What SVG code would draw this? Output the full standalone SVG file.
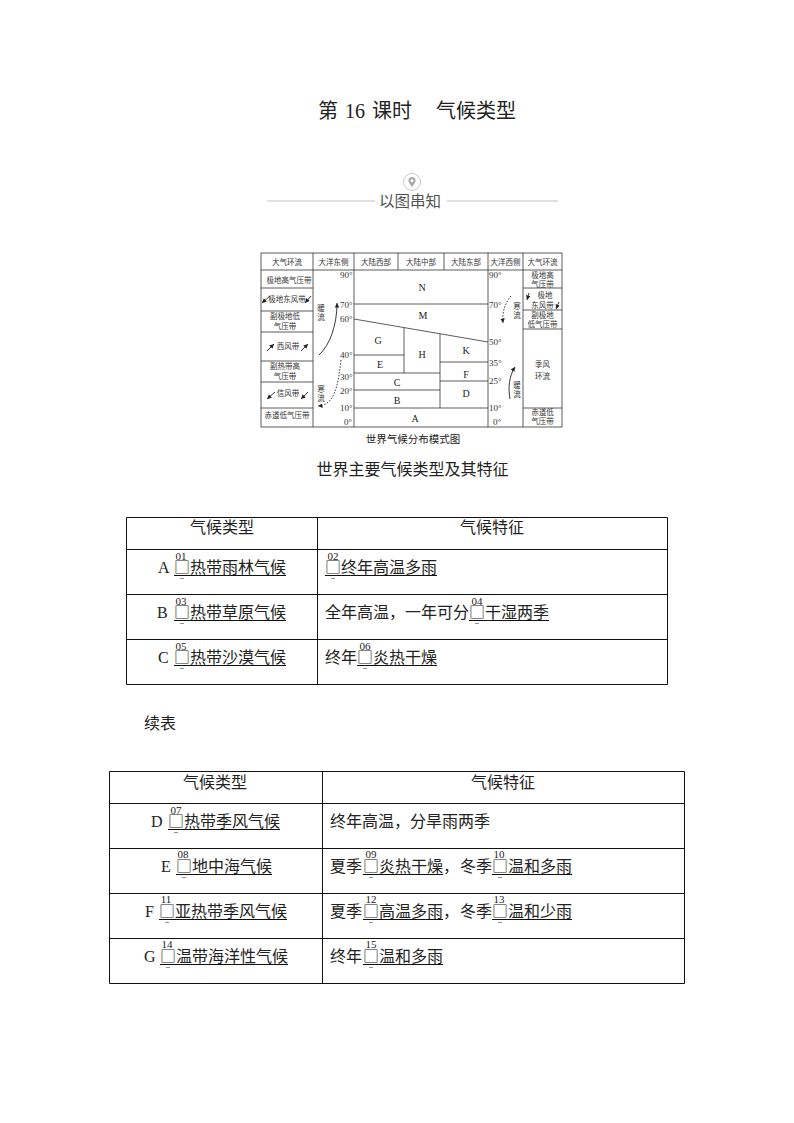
<svg xmlns="http://www.w3.org/2000/svg" width="794" height="1123" viewBox="0 0 794 1123">
<style>
text{font-family:"Liberation Serif","Noto Sans CJK SC",serif;fill:#222}
.t{font-size:16px}
.m{text-anchor:middle}
.s{font-size:7.500px;fill:#333}
.l{font-size:10px;text-anchor:middle}
.d{font-size:9px;fill:#333}
.n{font-size:11px;text-anchor:middle}
.q{font-family:"Noto Sans CJK SC",sans-serif;font-size:16px;text-anchor:middle}
.b{fill:none;stroke:#111;stroke-width:1}
.g{fill:none;stroke:#333;stroke-width:.8}
.u{stroke:#111;stroke-width:1}
.w{fill:none;stroke:#222;stroke-width:.9}
.x{fill:none;stroke:#222;stroke-width:.9;stroke-dasharray:1.5 1.5}
</style>
<defs>
<marker id="a" markerWidth="6" markerHeight="6" refX="5" refY="3" orient="auto"><path d="M0 .5L5 3L0 5.500z" fill="#222"/></marker>
<g id="mk"><text class="q" y="5.500" x="0">□</text><path stroke="#777" stroke-width=".8" d="M-2 11h4"/></g>
</defs>
<rect width="794" height="1123" fill="#fff"/>
<g id="title">
<text x="318" y="118" font-size="20">第</text><text x="345" y="118" font-size="20">16</text><text x="372" y="118" font-size="20">课时</text>
<text x="436" y="118" font-size="20">气候类型</text>
</g>
<g id="banner">
<circle cx="412" cy="182" r="8.500" fill="#fff" stroke="#bbb" stroke-width=".8"/>
<path d="M412 187c-2-3-3.600-4.500-3.600-6.300a3.600 3.600 0 0 1 7.200 0c0 1.800-1.600 3.300-3.600 6.300z" fill="#aaa"/>
<circle cx="412" cy="180.700" r="1.400" fill="#fff"/>
<path d="M267 201H375M447 201H558" stroke="#bbb" stroke-width=".9"/>
<text x="379" y="206.500" font-size="15.500" style="fill:#555">以图串知</text>
</g>
<g id="figure">
<rect class="g" x="261" y="253" width="301" height="174"/>
<path class="g" d="M261 270H562M313 253V427M354 253V427M398 253V270M444 253V270M488 253V427M523 253V427"/>
<path class="g" d="M261 288H313M261 311H313M261 332H313M261 361H313M261 382H313M261 408H313"/>
<path class="g" d="M523 288H562M523 310H562M523 329H562M523 408H562"/>
<path class="g" d="M354 304H488M354 319L488 342M404 327.600V373M440 333.800V408M354 355H404M354 373H440M354 390H440M354 408H488M440 362H488M440 381H488"/>
<g class="hdr">
<text class="s m" x="287" y="265">大气环流</text><text class="s m" x="333.500" y="265">大洋东侧</text><text class="s m" x="376" y="265">大陆西部</text><text class="s m" x="421" y="265">大陆中部</text><text class="s m" x="466" y="265">大陆东部</text><text class="s m" x="505.500" y="265">大洋西侧</text><text class="s m" x="542.500" y="265">大气环流</text>
</g>
<g class="left">
<text class="s m" x="289" y="283">极地高气压带</text>
<text class="s m" x="287" y="302">极地东风带</text>
<text class="s m" x="285" y="319">副极地低</text><text class="s m" x="285" y="329">气压带</text>
<text class="s m" x="288" y="349">西风带</text>
<text class="s m" x="285" y="369">副热带高</text><text class="s m" x="285" y="379">气压带</text>
<text class="s m" x="288" y="396">信风带</text>
<text class="s m" x="287" y="418">赤道低气压带</text>
<path class="w" marker-end="url(#a)" d="M270 296L262 303"/><path class="w" marker-end="url(#a)" d="M311 296L305 303"/>
<path class="w" marker-end="url(#a)" d="M267 351L274 344"/><path class="w" marker-end="url(#a)" d="M301 351L308 344"/>
<path class="w" marker-end="url(#a)" d="M275 392L267 399"/><path class="w" marker-end="url(#a)" d="M308 392L301 399"/>
</g>
<g class="right">
<text class="s m" x="542.500" y="278">极地高</text><text class="s m" x="542.500" y="286.500">气压带</text>
<text class="s m" x="545" y="298">极地</text><text class="s m" x="542.500" y="308">东风带</text>
<text class="s m" x="542.500" y="318">副极地</text><text class="s m" x="542.500" y="327">低气压带</text>
<text class="s m" x="542.500" y="367">季风</text><text class="s m" x="542.500" y="379">环流</text>
<text class="s m" x="542.500" y="415">赤道低</text><text class="s m" x="542.500" y="424">气压带</text>
<path class="w" marker-end="url(#a)" d="M529 293L527 300"/><path class="w" marker-end="url(#a)" d="M559 302L556 309"/>
</g>
<g class="currents">
<text class="s m" x="321" y="311">暖</text><text class="s m" x="321" y="320">流</text>
<text class="s m" x="321" y="392">寒</text><text class="s m" x="321" y="401">流</text>
<text class="s m" x="517" y="309">寒</text><text class="s m" x="517" y="318">流</text>
<text class="s m" x="517" y="388">暖</text><text class="s m" x="517" y="397">流</text>
<path class="w" marker-end="url(#a)" d="M319 355C330 345 337 325 337 303"/>
<path class="x" marker-end="url(#a)" d="M341 360C338 385 335 405 318 406"/>
<path class="x" marker-end="url(#a)" d="M511 296C505 303 502 312 503 323"/>
<path class="w" marker-end="url(#a)" d="M510 399C508 388 509 376 515 367"/>
</g>
<g class="deg">
<text class="d" x="340" y="278">90°</text><text class="d" x="340" y="308">70°</text><text class="d" x="340" y="322">60°</text><text class="d" x="340" y="358">40°</text><text class="d" x="340" y="380">30°</text><text class="d" x="340" y="394">20°</text><text class="d" x="340" y="411">10°</text><text class="d" x="344" y="425">0°</text>
<text class="d" x="489" y="278">90°</text><text class="d" x="489" y="308">70°</text><text class="d" x="489" y="345">50°</text><text class="d" x="489" y="366">35°</text><text class="d" x="489" y="384">25°</text><text class="d" x="489" y="411">10°</text><text class="d" x="493" y="425">0°</text>
</g>
<g class="zones">
<text class="l" x="422" y="291">N</text><text class="l" x="423" y="319">M</text><text class="l" x="378" y="344">G</text><text class="l" x="380" y="368">E</text><text class="l" x="397" y="386">C</text><text class="l" x="397" y="404">B</text><text class="l" x="415" y="422">A</text><text class="l" x="422" y="358">H</text><text class="l" x="466" y="354">K</text><text class="l" x="466" y="378">F</text><text class="l" x="466" y="397">D</text>
</g>
<text x="413" y="443" font-size="10.500" class="m">世界气候分布模式图</text>
</g>
<text id="heading" x="412.500" y="475" class="t m">世界主要气候类型及其特征</text>
<g id="table1">
<path class="b" d="M126.500 517.500H667.500V684.500H126.500ZM317.500 517.500V684.500M126.500 549.500H667.500M126.500 594.500H667.500M126.500 639.500H667.500"/>
<text class="t m" x="222" y="533">气候类型</text><text class="t m" x="492" y="533">气候特征</text>
<g id="r1"><text class="t" x="158" y="573">A</text><use href="#mk" x="182" y="567.500"/><text class="t" x="190" y="573">热带雨林气候</text><path class="u" d="M174 575.500H286"/><text class="n" x="181" y="559.500">01</text>
<use href="#mk" x="333" y="567.500"/><text class="t" x="341" y="573">终年高温多雨</text><path class="u" d="M325 575.500H437"/><text class="n" x="333" y="559.500">02</text></g>
<g id="r2"><text class="t" x="157" y="618">B</text><use href="#mk" x="182" y="612.500"/><text class="t" x="190" y="618">热带草原气候</text><path class="u" d="M174 620.500H286"/><text class="n" x="181" y="604.500">03</text>
<text class="t" x="325" y="618">全年高温，一年可分</text><use href="#mk" x="477" y="612.500"/><text class="t" x="485" y="618">干湿两季</text><path class="u" d="M469 620.500H549"/><text class="n" x="477" y="604.500">04</text></g>
<g id="r3"><text class="t" x="158" y="663">C</text><use href="#mk" x="182" y="657.500"/><text class="t" x="190" y="663">热带沙漠气候</text><path class="u" d="M174 665.500H286"/><text class="n" x="181" y="649.500">05</text>
<text class="t" x="325" y="663">终年</text><use href="#mk" x="365" y="657.500"/><text class="t" x="373" y="663">炎热干燥</text><path class="u" d="M357 665.500H437"/><text class="n" x="365" y="649.500">06</text></g>
</g>
<text id="cont" class="t" x="144" y="729">续表</text>
<g id="table2">
<path class="b" d="M109.500 771.500H684.500V983.500H109.500ZM322.500 771.500V983.500M109.500 803.500H684.500M109.500 848.500H684.500M109.500 893.500H684.500M109.500 938.500H684.500"/>
<text class="t m" x="215" y="788">气候类型</text><text class="t m" x="503" y="788">气候特征</text>
<g id="r4"><text class="t" x="151" y="827">D</text><use href="#mk" x="176" y="821.500"/><text class="t" x="184" y="827">热带季风气候</text><path class="u" d="M168 829.500H280"/><text class="n" x="176" y="813.500">07</text>
<text class="t" x="330" y="827">终年高温，分旱雨两季</text></g>
<g id="r5"><text class="t" x="161" y="872">E</text><use href="#mk" x="184" y="866.500"/><text class="t" x="192" y="872">地中海气候</text><path class="u" d="M176 874.500H272"/><text class="n" x="183" y="858">08</text>
<text class="t" x="330" y="872">夏季</text><use href="#mk" x="371" y="866.500"/><text class="t" x="379" y="872">炎热干燥</text><path class="u" d="M363 874.500H443"/><text class="t" x="443" y="872">，</text><text class="n" x="371" y="858">09</text>
<text class="t" x="460" y="872">冬季</text><use href="#mk" x="500" y="866.500"/><text class="t" x="508" y="872">温和多雨</text><path class="u" d="M492 874.500H572"/><text class="n" x="499" y="858">10</text></g>
<g id="r6"><text class="t" x="145" y="917">F</text><use href="#mk" x="167" y="911.500"/><text class="t" x="175" y="917">亚热带季风气候</text><path class="u" d="M159 919.500H287"/><text class="n" x="166" y="902.500">11</text>
<text class="t" x="330" y="917">夏季</text><use href="#mk" x="371" y="911.500"/><text class="t" x="379" y="917">高温多雨</text><path class="u" d="M363 919.500H443"/><text class="t" x="443" y="917">，</text><text class="n" x="371" y="902.500">12</text>
<text class="t" x="460" y="917">冬季</text><use href="#mk" x="500" y="911.500"/><text class="t" x="508" y="917">温和少雨</text><path class="u" d="M492 919.500H572"/><text class="n" x="499" y="902.500">13</text></g>
<g id="r7"><text class="t" x="144" y="962">G</text><use href="#mk" x="168" y="956.500"/><text class="t" x="176" y="962">温带海洋性气候</text><path class="u" d="M160 964.500H288"/><text class="n" x="167" y="947.500">14</text>
<text class="t" x="330" y="962">终年</text><use href="#mk" x="371" y="956.500"/><text class="t" x="379" y="962">温和多雨</text><path class="u" d="M363 964.500H443"/><text class="n" x="371" y="947.500">15</text></g>
</g>
</svg>
